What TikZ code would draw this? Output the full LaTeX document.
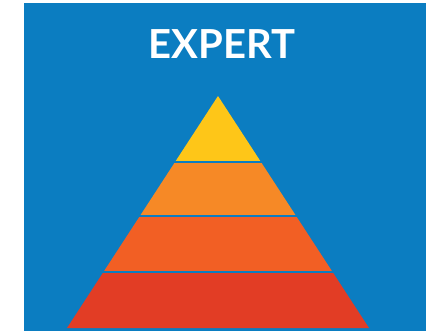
\documentclass[tikz,border=0pt]{standalone}
\usepackage{fontspec}
\newfontfamily\titlefont{Lato}
\definecolor{bgblue}{RGB}{11,125,193}
\definecolor{tierA}{RGB}{254,198,24}
\definecolor{tierB}{RGB}{246,137,38}
\definecolor{tierC}{RGB}{242,95,36}
\definecolor{tierD}{RGB}{226,61,37}
\begin{document}
\begin{tikzpicture}[x=1pt,y=-1pt,
  titlestyle/.style={text=white,font=\titlefont\bfseries\fontsize{40}{40}\selectfont,inner sep=0pt,anchor=base}]
\useasboundingbox (0,0) rectangle (430,333);
\fill[white] (0,0) rectangle (430,333);
\fill[bgblue] (24,3) rectangle (426,331);
\node[titlestyle] (title) at (222,58) {EXPERT};
\coordinate (apex) at (218,96);
\coordinate (bl) at (67,328);
\coordinate (br) at (369,328);
\begin{scope}
\clip (apex) -- (br) -- (bl) -- cycle;
\fill[tierA] (60,90) rectangle (380,161);
\fill[tierB] (60,163) rectangle (380,215);
\fill[tierC] (60,217) rectangle (380,271);
\fill[tierD] (60,273) rectangle (380,330);
\end{scope}
\end{tikzpicture}
\end{document}
